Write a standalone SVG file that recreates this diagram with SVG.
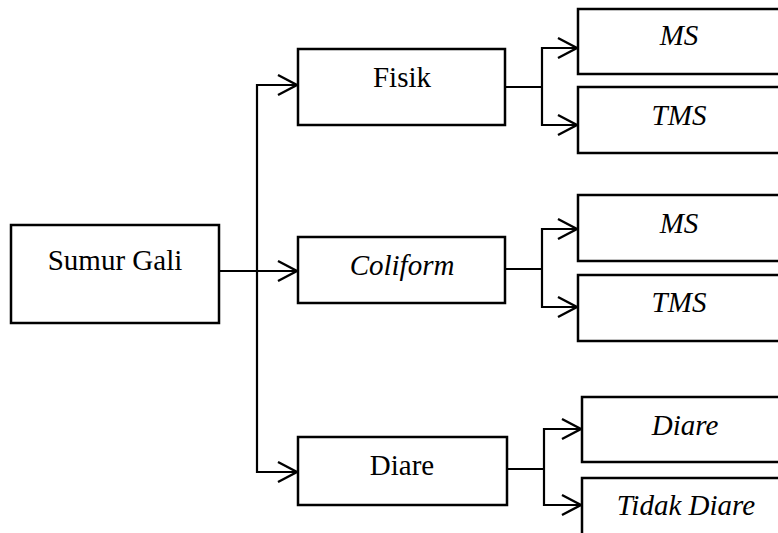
<svg xmlns="http://www.w3.org/2000/svg" width="778" height="533" viewBox="0 0 778 533">
  <style>
    .box { fill: #ffffff; stroke: #000000; stroke-width: 2.5; }
    .lbl { font-family: "Liberation Serif", "Times New Roman", serif; font-size: 29px; fill: #000000; text-anchor: middle; }
    .it { font-style: italic; }
    .conn { fill: none; stroke: #000000; stroke-width: 2.2; }
  </style>
  <defs>
    <marker id="arrow" markerUnits="userSpaceOnUse" viewBox="-2 -2 24 24" markerWidth="24" markerHeight="24" refX="19" refY="10" orient="auto">
      <path d="M0,0 L19,10 L0,20" fill="none" stroke="#000000" stroke-width="2.4"/>
    </marker>
  </defs>
  <rect width="778" height="533" fill="#ffffff"/>

  <g id="connectors">
    <path class="conn" d="M219,271 H297" marker-end="url(#arrow)"/>
    <path class="conn" d="M257,271 V85 H297" marker-end="url(#arrow)"/>
    <path class="conn" d="M257,271 V472 H297" marker-end="url(#arrow)"/>
    <path class="conn" d="M505,87 H542"/>
    <path class="conn" d="M542,87 V48 H577" marker-end="url(#arrow)"/>
    <path class="conn" d="M542,87 V125 H577" marker-end="url(#arrow)"/>
    <path class="conn" d="M505,269 H542"/>
    <path class="conn" d="M542,269 V229 H577" marker-end="url(#arrow)"/>
    <path class="conn" d="M542,269 V307 H577" marker-end="url(#arrow)"/>
    <path class="conn" d="M507,469 H544"/>
    <path class="conn" d="M544,469 V429 H581" marker-end="url(#arrow)"/>
    <path class="conn" d="M544,469 V505 H581" marker-end="url(#arrow)"/>
  </g>

  <g id="sumur-gali">
    <rect class="box" x="11" y="225" width="208" height="98"/>
    <text class="lbl" x="115" y="270">Sumur Gali</text>
  </g>
  <g id="fisik">
    <rect class="box" x="298" y="49" width="207" height="76"/>
    <text class="lbl" x="402" y="87">Fisik</text>
  </g>
  <g id="fisik-ms">
    <rect class="box" x="578" y="9" width="202" height="65"/>
    <text class="lbl it" x="679" y="45">MS</text>
  </g>
  <g id="fisik-tms">
    <rect class="box" x="578" y="87" width="202" height="66"/>
    <text class="lbl it" x="679" y="125">TMS</text>
  </g>
  <g id="coliform">
    <rect class="box" x="298" y="237" width="207" height="66"/>
    <text class="lbl it" x="402" y="275">Coliform</text>
  </g>
  <g id="coliform-ms">
    <rect class="box" x="578" y="195" width="202" height="66"/>
    <text class="lbl it" x="679" y="233">MS</text>
  </g>
  <g id="coliform-tms">
    <rect class="box" x="578" y="275" width="202" height="66"/>
    <text class="lbl it" x="679" y="312">TMS</text>
  </g>
  <g id="diare">
    <rect class="box" x="298" y="437" width="209" height="68"/>
    <text class="lbl" x="402" y="475">Diare</text>
  </g>
  <g id="diare-ya">
    <rect class="box" x="582" y="397" width="208" height="65"/>
    <text class="lbl it" x="685" y="435">Diare</text>
  </g>
  <g id="tidak-diare">
    <rect class="box" x="582" y="478" width="208" height="67"/>
    <text class="lbl it" x="686" y="515">Tidak Diare</text>
  </g>
</svg>
